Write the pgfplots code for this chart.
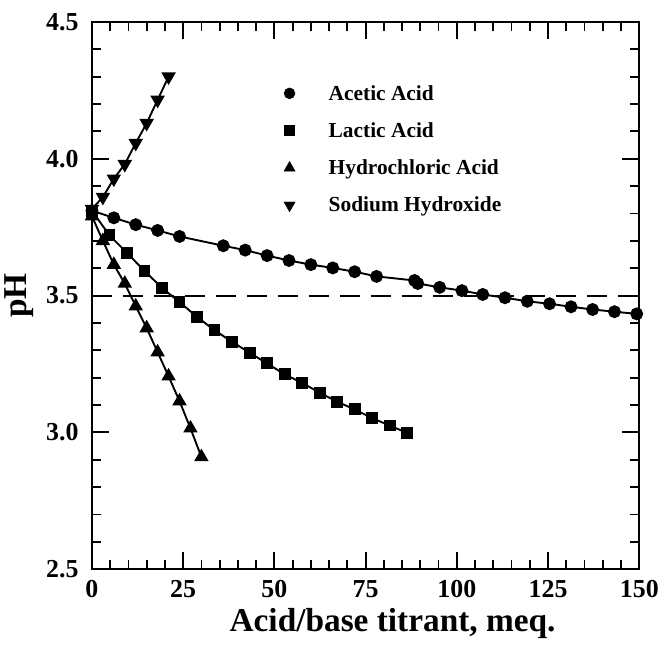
\documentclass[border=0pt]{standalone}
\usepackage{pgfplots}
\pgfplotsset{compat=1.18}
\usepackage{fontspec}
\setmainfont{Liberation Serif}
\begin{document}
\begin{tikzpicture}
\begin{axis}[
    scale only axis,
    width=548bp, height=548bp,
    xmin=0, xmax=150, ymin=2.5, ymax=4.5,
    clip=false,
    xtick={0,25,...,150},
    ytick={2.5,3.0,3.5,4.0,4.5},
    minor x tick num=4, minor y tick num=4,
    tick align=inside, tick pos=both,
    major tick length=17bp, minor tick length=9bp,
    axis line style={line width=2.2bp},
    every tick/.style={line width=1.8bp, black},
    /pgf/number format/assume math mode=true,
    ticklabel style={font=\fontsize{26}{26}\selectfont\bfseries},
    xticklabel style={yshift=-8bp},
    yticklabel style={xshift=-10bp, /pgf/number format/.cd, fixed, fixed zerofill, precision=1},
    xlabel={Acid/base titrant, meq.},
    ylabel={pH},
    label style={font=\fontsize{33.5}{33.5}\selectfont\bfseries},
    xlabel style={yshift=-3bp, xshift=27bp},
    ylabel style={yshift=6bp},
    legend style={draw=none, fill=none, at={(0.322,0.892)}, anchor=north west,
        font=\fontsize{21.5}{21.5}\selectfont\bfseries, row sep=17bp},
    legend cell align=left,
    legend image code/.code={\path (0bp,0bp) (55bp,0bp); \draw[#1, only marks] plot coordinates {(18bp,0bp)};},
]
% page margins as in the scan
\path (rel axis cs:-0.168,-0.1515) (rel axis cs:1.04,1.04);

% dashed reference line at pH 3.5
\addplot[forget plot, line width=2bp, dash pattern=on 20bp off 11bp] coordinates {(0,3.5) (150,3.5)};

% acetic acid
\addplot[forget plot, line width=1.9bp, mark=*, mark size=5.5bp] coordinates {
(0,3.81) (6,3.784) (12,3.759) (18,3.738) (24,3.716) (36,3.682) (42,3.666)
(48,3.646) (54,3.628) (60,3.613) (66,3.601) (72,3.587) (78,3.570) (88.4,3.555)
(89.3,3.544) (95.3,3.530) (101.4,3.518) (107.1,3.504) (113.2,3.492) (119.3,3.479)
(125.4,3.470) (131.3,3.459) (137.2,3.449) (143.2,3.441) (149.3,3.433)};

% lactic acid
\addplot[forget plot, line width=1.9bp, mark=square*, mark size=5bp] coordinates {
(0,3.81) (4.8,3.72) (9.6,3.656) (14.4,3.59) (19.2,3.528) (24,3.476) (28.8,3.422)
(33.6,3.373) (38.4,3.331) (43.2,3.291) (48,3.252) (52.8,3.212) (57.6,3.181)
(62.4,3.145) (67.2,3.112) (72,3.084) (76.8,3.052) (81.6,3.025) (86.4,2.998)};

% hydrochloric acid
\addplot[forget plot, line width=1.9bp, mark=triangle*, mark size=6.5bp] coordinates {
(0,3.79) (3,3.70) (6,3.613) (9,3.544) (12,3.461) (15,3.381) (18,3.293)
(21,3.205) (24,3.114) (27,3.015) (30,2.91)};

% sodium hydroxide
\addplot[forget plot, line width=1.9bp, mark=triangle*, mark size=6.5bp,
    mark options={rotate=180}] coordinates {
(0,3.816) (3,3.86) (6,3.927) (9,3.98) (12,4.057) (15,4.13) (18,4.215) (21,4.30)};

\addlegendimage{mark=*, mark size=5.5bp}
\addlegendentry{Acetic Acid}
\addlegendimage{mark=square*, mark size=5bp}
\addlegendentry{Lactic Acid}
\addlegendimage{mark=triangle*, mark size=6.5bp}
\addlegendentry{Hydrochloric Acid}
\addlegendimage{mark=triangle*, mark size=6.5bp, mark options={rotate=180}}
\addlegendentry{Sodium Hydroxide}
\end{axis}
\end{tikzpicture}
\end{document}
